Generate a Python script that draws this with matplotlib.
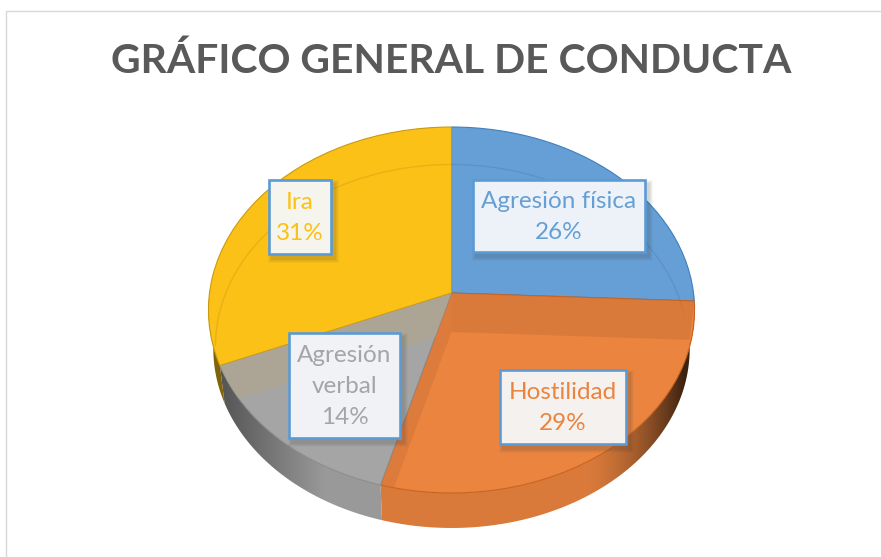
import numpy as np
import matplotlib
matplotlib.use("Agg")
import matplotlib.pyplot as plt
from matplotlib.patches import Arc, Polygon, Rectangle
from matplotlib.transforms import Transform

categorias = ["Agresión física", "Hostilidad", "Agresión\nverbal", "Ira"]
valores = [25.7, 28.6, 14.4, 31.3]
titulo = "GRÁFICO GENERAL DE CONDUCTA"

colores = ["#659fd5", "#ea843f", "#a5a5a5", "#fcc116"]
bordes = ["#3f7fbd", "#c9611c", "#8c8c8c", "#c99a10"]
fondos_caja = ["#edf2f9", "#f5f1ee", "#f0f2f5", "#f5f4ed"]
# caja de cada etiqueta: x0, y0, x1, y1 en pixeles
cajas = [(473, 180, 645, 252), (500, 370, 626, 444), (289, 333, 400, 438), (269, 180, 331, 254)]

CX, CY = 451.5, 293
A, B, K = 242, 181.4, 0.0929   # perspectiva del disco
ESCALA_BASE, BAJA_BASE = 0.98, 39


def proyecta(x, y, base=False):
    # lo de atras se ve mas chico que lo de adelante
    x = np.asarray(x, dtype=float)
    y = np.asarray(y, dtype=float)
    w = 1 + K * y
    px, py = A * x / w, -B * y / w
    if base:
        return CX + ESCALA_BASE * px, CY + ESCALA_BASE * py + BAJA_BASE
    return CX + px, CY + py


class Vista(Transform):
    input_dims = 2
    output_dims = 2

    def transform_non_affine(self, values):
        px, py = proyecta(values[:, 0], values[:, 1])
        return np.column_stack([px, py])


def borde_xy(t1, t2, base=False):
    t = np.radians(np.linspace(t1, t2, 200))
    return np.column_stack(proyecta(np.cos(t), np.sin(t), base))


def sombra_x(x):
    # oscurece los extremos de la pared lateral
    izq = np.clip((325 - x) / 105, 0, 1) * 0.45
    der = np.clip((x - 585) / 100, 0, 1) ** 1.6 * 0.72
    return 1 - izq - der


fig = plt.figure(figsize=(8.81, 5.57), dpi=100)
ax = fig.add_axes([0, 0, 1, 1])
plt.rcParams["font.family"] = ["Lato", "DejaVu Sans"]

wedges, _ = ax.pie(valores, colors=colores, startangle=90, counterclock=False)
vista = Vista() + ax.transData

for w, borde in zip(wedges, bordes):
    w.set_transform(vista)
    w.set_edgecolor(borde)
    w.set_linewidth(0.8)
    w.set_zorder(2)

# pared lateral
xs = np.arange(200, 710)
for w, color in zip(wedges, colores):
    lo, hi = max(w.theta1, -180), min(w.theta2, 0)
    if lo >= hi:
        continue
    arriba = borde_xy(lo, hi)
    abajo = borde_xy(lo, hi, base=True)
    pared = Polygon(np.vstack([arriba, abajo[::-1]]), closed=True, facecolor="none", edgecolor="none")
    ax.add_patch(pared)
    tono = np.array(matplotlib.colors.to_rgb(color)) * 0.93
    img = np.outer(sombra_x(xs), tono)[None, :, :]
    im = ax.imshow(img, extent=(xs[0], xs[-1], 540, 290), aspect="auto", zorder=1)
    im.set_clip_path(pared)

# paredes internas que se ven a traves de la tapa
internas = [(wedges[1], wedges[1].theta2, "#cb7239", 0.55),
            (wedges[1], wedges[1].theta1, "#cb7239", 0.45),
            (wedges[2], wedges[2].theta1, "#afa590", 0.75)]
for w, ang, color, alfa in internas:
    ca, sa = np.cos(np.radians(ang)), np.sin(np.radians(ang))
    banda = Polygon([proyecta(0, 0), proyecta(ca, sa), proyecta(ca, sa, base=True), proyecta(0, 0, base=True)],
                    closed=True, facecolor=color, edgecolor="none", alpha=alfa, zorder=3)
    ax.add_patch(banda)
    banda.set_clip_path(w)

# borde tenue de la base
ax.add_patch(Arc((CX, 346), 472, 363, theta1=180, theta2=352, color="#000000",
                 alpha=0.08, lw=1, zorder=2.5))

# etiquetas
for nombre, valor, color, fondo, (x0, y0, x1, y1) in zip(categorias, valores, colores, fondos_caja, cajas):
    for d, a in [(9, 0.04), (7, 0.05), (5, 0.06), (3, 0.08)]:
        ax.add_patch(Rectangle((x0 + 3 - d / 2, y0 + 4 - d / 2), x1 - x0 + d, y1 - y0 + d,
                               facecolor="#404040", edgecolor="none", alpha=a, zorder=4))
    ax.add_patch(Rectangle((x0, y0), x1 - x0, y1 - y0, facecolor=fondo, edgecolor="#5b9bd5",
                           lw=1.9, zorder=5))
    ax.text((x0 + x1) / 2, (y0 + y1) / 2 + 1, f"{nombre}\n{valor:.0f}%", color=color, fontsize=17.5,
            ha="center", va="center", linespacing=1.6, zorder=6)

# marco del grafico
ax.add_patch(Rectangle((5.5, 11), 900, 600, facecolor="none", edgecolor="#d9d9d9", lw=1, zorder=0.5))

ax.text(451, 61, titulo, color="#595959", fontsize=29.4, fontweight="bold", ha="center", va="center")

ax.set_aspect("auto")
ax.set_xlim(0, 881)
ax.set_ylim(557, 0)
ax.axis("off")

fig.savefig("out.png", dpi=100)
